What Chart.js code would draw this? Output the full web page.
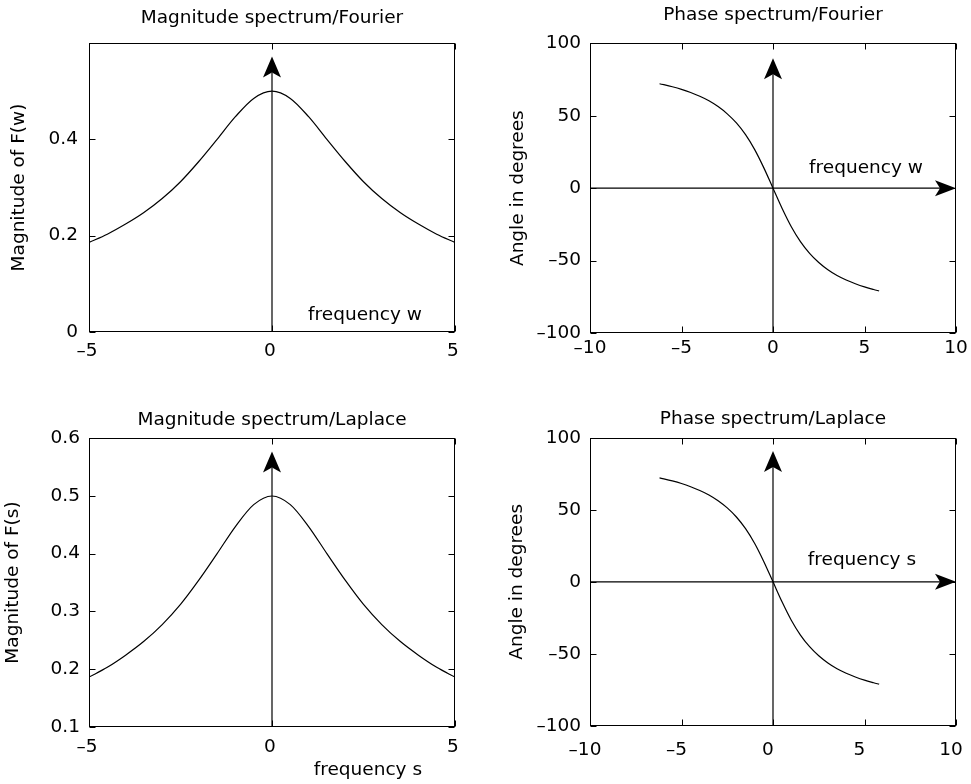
<!DOCTYPE html>
<html>
<head>
<meta charset="utf-8">
<script src="https://cdn.jsdelivr.net/npm/chart.js@4.4.1/dist/chart.umd.min.js"></script>
<style>
  html, body { margin: 0; background: #fff; overflow: hidden; }
  .cell { position: absolute; }
</style>
</head>
<body>
<div class="cell" style="left:0;top:0;width:485px;height:392px"><canvas id="magFourier"></canvas></div>
<div class="cell" style="left:485px;top:0;width:486px;height:392px"><canvas id="phaseFourier"></canvas></div>
<div class="cell" style="left:0;top:392px;width:485px;height:392px"><canvas id="magLaplace"></canvas></div>
<div class="cell" style="left:485px;top:392px;width:486px;height:392px"><canvas id="phaseLaplace"></canvas></div>
<script>
// values
const magW = [-5, -4.5, -4, -3.5, -3, -2.5, -2, -1.5, -1, -0.5, 0, 0.5, 1, 1.5, 2, 2.5, 3, 3.5, 4, 4.5, 5];
const magF = [0.186, 0.203, 0.224, 0.248, 0.277, 0.312, 0.354, 0.400, 0.447, 0.485, 0.500,
              0.485, 0.447, 0.400, 0.354, 0.312, 0.277, 0.248, 0.224, 0.203, 0.186];
const phaseW = [-6.2, -5.5, -5, -4.5, -4, -3.5, -3, -2.5, -2, -1.5, -1, -0.5, 0,
                0.5, 1, 1.5, 2, 2.5, 3, 3.5, 4, 4.5, 5, 5.5, 5.8];
const phaseDeg = [72.1, 70.0, 68.2, 66.0, 63.4, 60.3, 56.3, 51.3, 45.0, 36.9, 26.6, 14.0, 0,
                  -14.0, -26.6, -36.9, -45.0, -51.3, -56.3, -60.3, -63.4, -66.0, -68.2, -70.0, -71.0];

const magTicksX = [-5, 0, 5];
const magFourierTicksY = [0, 0.2, 0.4];
const magLaplaceTicksY = [0.1, 0.2, 0.3, 0.4, 0.5, 0.6];
const phaseTicksX = [-10, -5, 0, 5, 10];
const phaseTicksY = [-100, -50, 0, 50, 100];

// arrow tips and text anchors (data units)
const magFourierArrowTip = 0.572;
const magLaplaceArrowTip = 0.577;
const phaseFourierArrowTip = 89.7;
const phaseLaplaceArrowTip = 90.8;
const magFourierNote = ['frequency w', 2.54, 0.024];
const phaseFourierNote = ['frequency w', 5.08, 10.6];
const magLaplaceNote = ['frequency s', 2.62, 0.016];
const phaseLaplaceNote = ['frequency s', 4.86, 11.8];

const FONT = "'DejaVu Sans', 'Liberation Sans', Arial, sans-serif";
const FSIZE = 18.5;

const fmt = v => (v < 0 ? '\u2013' + Math.abs(v) : String(v));

function arrow(ctx, x1, y1, x2, y2, len, hw, notch) {
  const d = Math.hypot(x2 - x1, y2 - y1);
  const ux = (x2 - x1) / d, uy = (y2 - y1) / d;
  const nx = -uy, ny = ux;
  const bx = x2 - ux * len, by = y2 - uy * len;
  const mx = x2 - ux * (len - notch), my = y2 - uy * (len - notch);
  ctx.beginPath();
  ctx.moveTo(x1, y1);
  ctx.lineTo(mx, my);
  ctx.stroke();
  ctx.beginPath();
  ctx.moveTo(x2, y2);
  ctx.lineTo(bx + nx * hw, by + ny * hw);
  ctx.lineTo(mx, my);
  ctx.lineTo(bx - nx * hw, by - ny * hw);
  ctx.closePath();
  ctx.fill();
}

// box, inward ticks on all sides, axis arrows and the text note
const frame = {
  id: 'frame',
  afterDatasetsDraw(chart, args, opts) {
    const { ctx, chartArea: a, scales: { x, y } } = chart;
    ctx.save();
    ctx.strokeStyle = '#000';
    ctx.fillStyle = '#000';
    ctx.lineWidth = 1;
    const L = Math.round(a.left) + 0.5, R = Math.round(a.right) - 0.5;
    const T = Math.round(a.top) + 0.5, B = Math.round(a.bottom) - 0.5;
    ctx.strokeRect(L, T, R - L, B - T);
    ctx.beginPath();
    x.ticks.forEach(t => {
      const px = Math.round(x.getPixelForValue(t.value)) + 0.5;
      ctx.moveTo(px, B); ctx.lineTo(px, B - 6);
      ctx.moveTo(px, T); ctx.lineTo(px, T + 6);
    });
    y.ticks.forEach(t => {
      const py = Math.round(y.getPixelForValue(t.value)) + 0.5;
      ctx.moveTo(L, py); ctx.lineTo(L + 6, py);
      ctx.moveTo(R, py); ctx.lineTo(R - 6, py);
    });
    ctx.stroke();

    ctx.lineWidth = 1.2;
    const x0 = x.getPixelForValue(0);
    arrow(ctx, x0, a.bottom, x0, y.getPixelForValue(opts.vTip), 21, 9, 5);
    if (opts.hArrow) {
      const y0 = y.getPixelForValue(0);
      arrow(ctx, a.left, y0, x.getPixelForValue(x.max), y0, 21, 8, 5);
    }
    const [txt, tx, ty] = opts.note;
    ctx.font = FSIZE + 'px ' + FONT;
    ctx.textAlign = 'center';
    ctx.textBaseline = 'alphabetic';
    ctx.fillText(txt, x.getPixelForValue(tx), y.getPixelForValue(ty));
    ctx.restore();
  }
};

function spectrumChart(id, p) {
  const font = { family: FONT, size: FSIZE, weight: 'normal' };
  return new Chart(document.getElementById(id), {
    type: 'line',
    data: {
      datasets: [{
        data: p.xs.map((v, i) => ({ x: v, y: p.ys[i] })),
        borderColor: '#000',
        borderWidth: 1.2,
        pointRadius: 0,
        cubicInterpolationMode: 'monotone',
        fill: false
      }]
    },
    options: {
      responsive: true,
      maintainAspectRatio: false,
      animation: false,
      events: [],
      layout: { padding: { left: 0, right: p.padRight, top: 0, bottom: 0 } },
      plugins: {
        legend: { display: false },
        tooltip: { enabled: false },
        title: {
          display: true,
          text: p.title,
          fullSize: false,
          color: '#000',
          font: font,
          padding: { top: p.titlePad[0], bottom: p.titlePad[1] }
        },
        frame: { vTip: p.vTip, hArrow: p.hArrow, note: p.note }
      },
      scales: {
        x: {
          type: 'linear',
          min: p.xRange[0],
          max: p.xRange[1],
          grid: { display: false, drawTicks: false },
          border: { display: false },
          ticks: {
            color: '#000', font: font, padding: p.xTickPad, labelOffset: p.xLabelOffset,
            autoSkip: false, maxRotation: 0, callback: fmt
          },
          afterBuildTicks: s => { s.ticks = p.xTicks.map(v => ({ value: v })); },
          afterFit: s => { s.height = p.xHeight; s.paddingLeft = 0; s.paddingRight = 0; }
        },
        y: {
          min: p.yRange[0],
          max: p.yRange[1],
          grid: { display: false, drawTicks: false },
          border: { display: false },
          ticks: { color: '#000', font: font, padding: p.yTickPad, autoSkip: false, callback: fmt },
          title: {
            display: true, text: p.yTitle, color: '#000', font: font,
            padding: { top: p.yTitlePad, bottom: 0 }
          },
          afterBuildTicks: s => { s.ticks = p.yTicks.map(v => ({ value: v })); },
          afterFit: s => { s.width = p.yWidth; s.paddingTop = 0; s.paddingBottom = 0; }
        }
      }
    },
    plugins: [frame]
  });
}

spectrumChart('magFourier', {
  title: 'Magnitude spectrum/Fourier', titlePad: [7.2, 13.6],
  xs: magW, ys: magF, xRange: [-5, 5], yRange: [0, 0.6],
  xTicks: magTicksX, yTicks: magFourierTicksY,
  yTitle: 'Magnitude of F(w)', yTitlePad: 8.4,
  yWidth: 89, padRight: 30, xHeight: 60, xTickPad: 7.9, xLabelOffset: -2, yTickPad: 11,
  vTip: magFourierArrowTip, hArrow: false, note: magFourierNote
});

spectrumChart('phaseFourier', {
  title: 'Phase spectrum/Fourier', titlePad: [4.4, 16.7],
  xs: phaseW, ys: phaseDeg, xRange: [-10, 10], yRange: [-100, 100],
  xTicks: phaseTicksX, yTicks: phaseTicksY,
  yTitle: 'Angle in degrees', yTitlePad: 22.4,
  yWidth: 105, padRight: 15, xHeight: 59, xTickPad: 3.7, xLabelOffset: 0, yTickPad: 9,
  vTip: phaseFourierArrowTip, hArrow: true, note: phaseFourierNote
});

spectrumChart('magLaplace', {
  title: 'Magnitude spectrum/Laplace', titlePad: [16.6, 7.5],
  xs: magW, ys: magF, xRange: [-5, 5], yRange: [0.1, 0.6],
  xTicks: magTicksX, yTicks: magLaplaceTicksY,
  yTitle: 'Magnitude of F(s)', yTitlePad: 2.4,
  yWidth: 89, padRight: 30, xHeight: 57.3, xTickPad: 9.7, xLabelOffset: -2, yTickPad: 9,
  vTip: magLaplaceArrowTip, hArrow: false, note: magLaplaceNote
});

spectrumChart('phaseLaplace', {
  title: 'Phase spectrum/Laplace', titlePad: [15.7, 7.8],
  xs: phaseW, ys: phaseDeg, xRange: [-10, 10], yRange: [-100, 100],
  xTicks: phaseTicksX, yTicks: phaseTicksY,
  yTitle: 'Angle in degrees', yTitlePad: 21.4,
  yWidth: 105, padRight: 15, xHeight: 58, xTickPad: 13.4, xLabelOffset: -5, yTickPad: 9,
  vTip: phaseLaplaceArrowTip, hArrow: true, note: phaseLaplaceNote
});
</script>
</body>
</html>
